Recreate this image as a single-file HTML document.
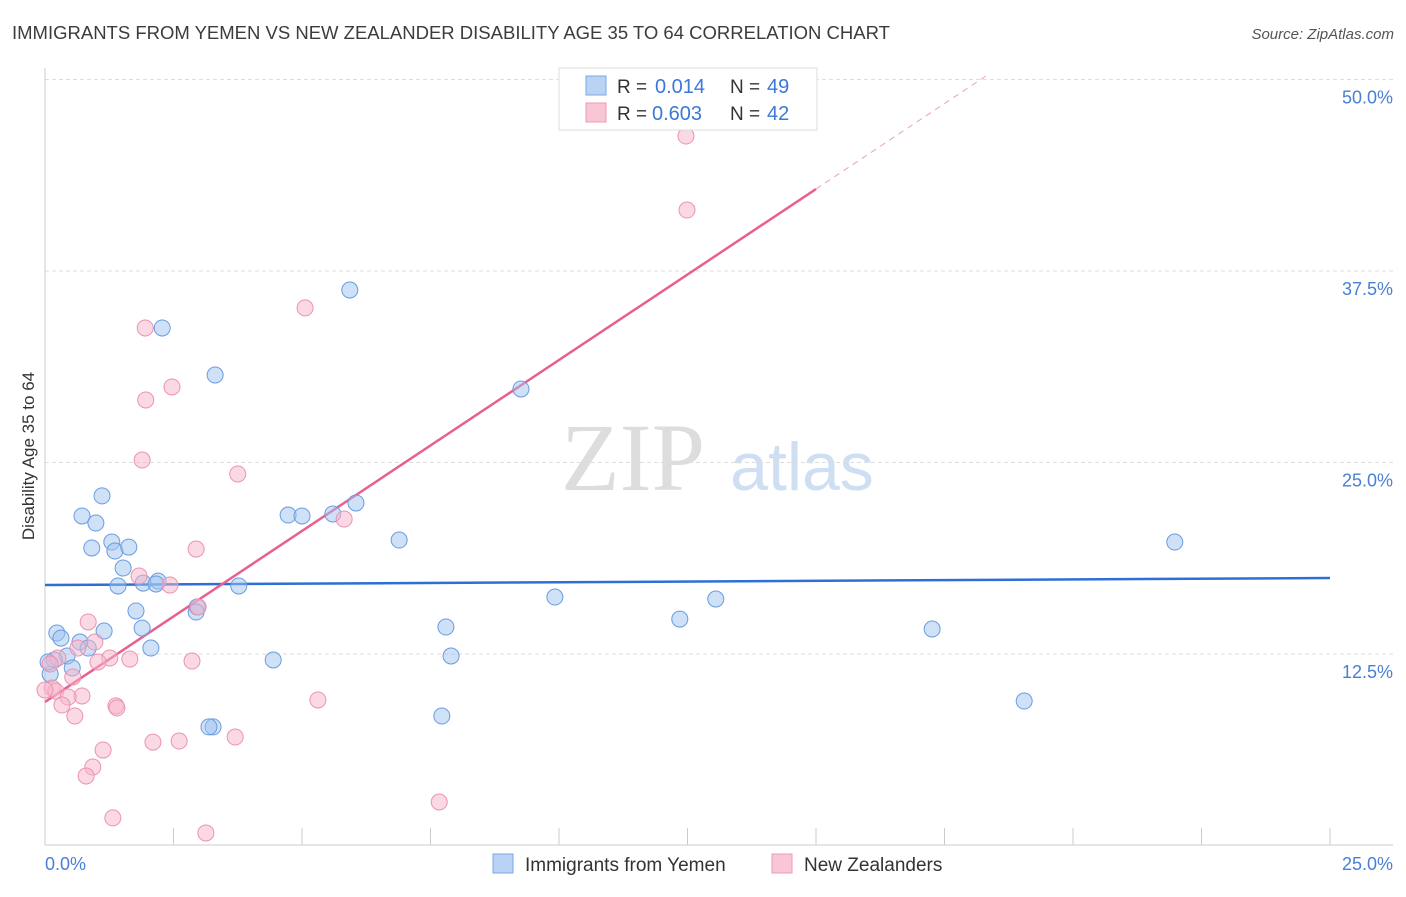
<!DOCTYPE html>
<html><head><meta charset="utf-8"><style>
body{margin:0;background:#fff;font-family:"Liberation Sans",sans-serif}
</style></head><body>
<svg id="chart" width="1406" height="892" viewBox="0 0 1406 892" xmlns="http://www.w3.org/2000/svg">
<text x="12" y="39" font-size="18.5" fill="#3c3c3c">IMMIGRANTS FROM YEMEN VS NEW ZEALANDER DISABILITY AGE 35 TO 64 CORRELATION CHART</text>
<text x="1394" y="39" font-size="15" fill="#555" font-style="italic" text-anchor="end">Source: ZipAtlas.com</text>
<text x="34" y="456" font-size="17" fill="#333" text-anchor="middle" transform="rotate(-90 34 456)">Disability Age 35 to 64</text>
<g>
<text x="633" y="490" font-size="96" font-family="Liberation Serif,serif" fill="#ddd" text-anchor="middle">ZIP</text>
<text x="802" y="490" font-size="68" fill="#cfdff3" text-anchor="middle">atlas</text>
</g>
<g id="grid"></g><g id="axes"></g><g id="trends"></g><g id="pts"></g>
<g>
<rect x="559" y="68" width="258" height="62" fill="#fff" stroke="#ddd"/>
<rect x="586" y="76" width="20" height="19" fill="#b9d3f5" stroke="#7aa7e6"/>
<rect x="586" y="103" width="20" height="19" fill="#f9c6d6" stroke="#ee9ab3"/>
<text x="617" y="93" font-size="19" fill="#333">R =</text>
<text x="655" y="93" font-size="20" fill="#3b78d8">0.014</text>
<text x="730" y="93" font-size="19" fill="#333">N =</text>
<text x="767" y="93" font-size="20" fill="#3b78d8">49</text>
<text x="617" y="120" font-size="19" fill="#333">R =</text>
<text x="652" y="120" font-size="20" fill="#3b78d8">0.603</text>
<text x="730" y="120" font-size="19" fill="#333">N =</text>
<text x="767" y="120" font-size="20" fill="#3b78d8">42</text>
</g>
<g>
<rect x="493" y="854" width="20" height="19" fill="#b9d3f5" stroke="#7aa7e6"/>
<text x="525" y="871" font-size="19" fill="#333">Immigrants from Yemen</text>
<rect x="772" y="854" width="20" height="19" fill="#f9c6d6" stroke="#ee9ab3"/>
<text x="804" y="871" font-size="19" fill="#333">New Zealanders</text>
</g>
</svg>
<script>
const yTicks=[12.5,25,37.5,50];
const yTickLabels=["12.5%","25.0%","37.5%","50.0%"];
const blueX=[5.93,2.28,3.31,9.26,1.11,0.72,0.99,6.05,4.73,5.00,5.60,6.89,21.98,0.91,1.30,1.36,1.63,1.52,1.42,1.91,2.20,2.16,3.77,2.96,2.94,1.77,9.92,13.05,12.35,17.26,1.89,1.15,0.23,0.31,7.80,0.68,0.84,2.06,0.43,0.53,0.18,0.10,4.44,7.90,19.05,7.72,3.27,3.19,0.06];
const blueY=[36.26,33.78,30.71,29.80,22.82,21.51,21.05,22.36,21.57,21.51,21.64,19.94,19.81,19.42,19.81,19.22,19.48,18.11,16.94,17.13,17.26,17.07,16.94,15.57,15.24,15.31,16.22,16.09,14.78,14.13,14.19,14.00,13.87,13.54,14.26,13.28,12.89,12.89,12.37,11.59,12.11,11.19,12.11,12.37,9.43,8.45,7.74,7.74,11.98];
const pinkX=[12.47,12.49,5.06,1.95,2.47,1.96,1.89,3.75,5.82,2.94,1.83,2.43,2.98,0.84,0.97,0.64,1.26,1.65,1.03,2.86,0.25,0.54,0.14,0.21,0.72,0.45,5.31,1.38,1.40,0.33,0.58,2.10,2.61,3.70,1.13,0.93,0.80,7.67,1.32,3.13,0.10,0.00];
const pinkY=[46.31,41.48,35.09,33.78,29.93,29.08,25.16,24.25,21.31,19.35,17.59,17.00,15.57,14.59,13.28,12.89,12.24,12.17,11.98,12.04,12.24,11.00,10.28,10.08,9.76,9.69,9.50,9.11,8.98,9.17,8.45,6.75,6.82,7.08,6.23,5.12,4.54,2.84,1.80,0.82,11.85,10.15];
const blueTrend=[17.0,17.46];
const pinkTrend=[9.37,2.232];
const NS="http://www.w3.org/2000/svg";
const X0=45,X1=1330,Y0=845.5,PX=(X1-X0)/25,PY=(Y0-654)/12.5;
function sx(v){return X0+v*PX}
function sy(v){return Y0-v*PY}
function mk(p,tag,a){const e=document.createElementNS(NS,tag);for(const k in a)e.setAttribute(k,a[k]);p.appendChild(e);return e}
const grid=document.getElementById('grid'),axes=document.getElementById('axes');
yTicks.forEach((t,i)=>{
 const l=mk(grid,'line',{x1:45,x2:1393,y1:sy(t),y2:sy(t),stroke:'#ddd','stroke-dasharray':'4 3'});
 
 
 const tx=mk(grid,'text',{x:1393,y:sy(t)+24,'font-size':18,fill:'#4a7fd4','text-anchor':'end'});
 tx.textContent=yTickLabels[i];
 
 
});
const ya=mk(axes,'line',{x1:45,x2:45,y1:68,y2:845,stroke:'#ccc'});


const xa=mk(axes,'line',{x1:45,x2:1393,y1:845,y2:845,stroke:'#ccc'});


for(let i=0;i<=10;i++){const v=i*2.5;const t=mk(axes,'line',{x1:sx(v),x2:sx(v),y1:828,y2:845,stroke:'#ccc'});
 
 }
[[0,'0.0%','start',45],[25,'25.0%','end',1393]].forEach(a=>{const t=mk(axes,'text',{x:a[3],y:870,'font-size':18,fill:'#4a7fd4','text-anchor':a[2]});t.textContent=a[1];
 
 });
const tr=document.getElementById('trends');
const bt=mk(tr,'line',{x1:sx(0),y1:sy(blueTrend[0]),x2:sx(25),y2:sy(blueTrend[1]),stroke:'#2d6fd6','stroke-width':2.5});


const pe=15.0,pd=18.3;
const pt=mk(tr,'line',{x1:sx(0),y1:sy(pinkTrend[0]),x2:sx(pe),y2:sy(pinkTrend[0]+pinkTrend[1]*pe),stroke:'#e8608e','stroke-width':2.5});


const pdl=mk(tr,'line',{x1:sx(pe),y1:sy(pinkTrend[0]+pinkTrend[1]*pe),x2:sx(pd),y2:sy(pinkTrend[0]+pinkTrend[1]*pd),stroke:'#eaa0b8','stroke-width':1,'stroke-dasharray':'6 5'});


const pts=document.getElementById('pts');
blueX.forEach((x,i)=>{const c=mk(pts,'circle',{cx:sx(x),cy:sy(blueY[i]),r:8,fill:'rgba(160,196,240,0.5)',stroke:'#6a9be0','stroke-width':1});
 
 });
pinkX.forEach((x,i)=>{const c=mk(pts,'circle',{cx:sx(x),cy:sy(pinkY[i]),r:8,fill:'rgba(247,180,202,0.5)',stroke:'#eb93b0','stroke-width':1});
 
 });
</script>
</body></html>
